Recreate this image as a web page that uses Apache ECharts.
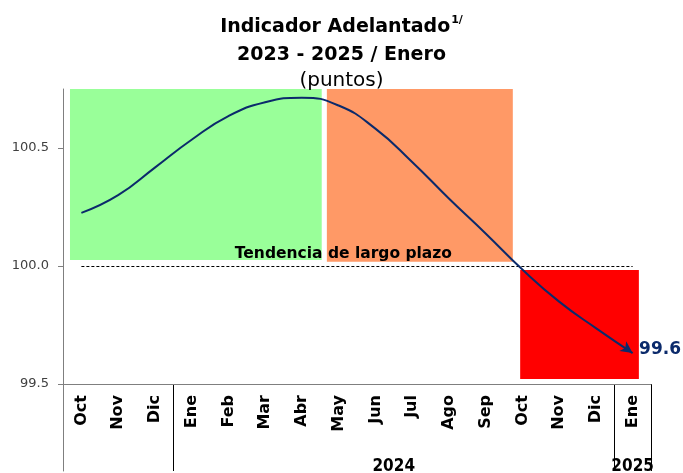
<!DOCTYPE html>
<html>
<head>
<meta charset="utf-8">
<script src="https://cdn.jsdelivr.net/npm/echarts@6/dist/echarts.min.js"></script>
<style>
html,body{margin:0;padding:0;background:#fff;}
#chart{width:683px;height:473px;}
</style>
</head>
<body>
<div id="chart"></div>
<script>
// ---- data ----
var categories = ['Oct','Nov','Dic','Ene','Feb','Mar','Abr','May','Jun','Jul','Ago','Sep','Oct','Nov','Dic','Ene'];
var values = [100.225, 100.300, 100.417, 100.535, 100.635, 100.694, 100.713, 100.680, 100.582, 100.441, 100.286, 100.138, 99.985, 99.849, 99.737, 99.631];
var yearNames = ['', '2024', '2025'];
var yearGroupSizes = [3, 12, 1];
var yTicks = [99.5, 100.0, 100.5];
var trendValue = 100.0;
var trendLabel = 'Tendencia de largo plazo';
var trendLabelAt = 7.13;
// shaded zones (category index units / indicator points)
var zoneStart = [-0.31, 6.68, 11.94];
var zoneEnd = [6.54, 11.74, 15.17];
var zoneTop = [100.75, 100.75, 99.983];
var zoneBottom = [100.025, 100.018, 99.521];

// ---- styles ----
var zoneColors = ['#99ff99', '#ff9966', '#ff0000'];
var lineColor = '#0b2a6b';
var axisColor = '#7f7f7f';

var lineData = values.map(function (v, i) { return [i, v]; });
var last = lineData.length - 1;
lineData[last] = {
  value: lineData[last],
  symbol: 'arrow',
  symbolSize: [9, 12],
  symbolRotate: -125,
  itemStyle: { color: lineColor },
  label: {
    show: true, position: 'right', distance: 3,
    formatter: function () { return values[last].toFixed(1); },
    fontFamily: 'DejaVu Sans', fontWeight: 'bold', fontSize: 17, color: lineColor
  }
};

// year group centers
var yearCenters = [];
var acc = 0;
yearGroupSizes.forEach(function (n) { yearCenters.push(acc + (n - 1) / 2); acc += n; });
var groupBoundaries = [];
acc = 0;
yearGroupSizes.forEach(function (n, k) { if (k > 0) groupBoundaries.push(acc); acc += n; });

var markAreaData = zoneStart.map(function (s, k) {
  return [
    { coord: [s, zoneTop[k]], itemStyle: { color: zoneColors[k], opacity: 1 } },
    { coord: [zoneEnd[k], zoneBottom[k]] }
  ];
});

var chart = echarts.init(document.getElementById('chart'));
var option = {
  animation: false,
  title: [
    { text: '{a|Indicador Adelantado}{s|1/}', left: 'center', top: 10,
      textStyle: { rich: {
        a: { fontFamily: 'DejaVu Sans', fontWeight: 'bold', fontSize: 19, color: '#000', lineHeight: 24 },
        s: { fontFamily: 'DejaVu Sans', fontWeight: 'bold', fontSize: 11, color: '#000', lineHeight: 24, verticalAlign: 'top', padding: [0, 0, 0, 1] }
      } } },
    { text: '2023 - 2025 / Enero', left: 'center', top: 38,
      textStyle: { fontFamily: 'DejaVu Sans', fontWeight: 'bold', fontSize: 19, color: '#000', lineHeight: 24 } },
    { text: '(puntos)', left: 'center', top: 64,
      textStyle: { fontFamily: 'DejaVu Sans', fontWeight: 'normal', fontSize: 20, color: '#000', lineHeight: 24 } }
  ],
  grid: [
    { left: 63, right: 32, top: 89, bottom: 89 },
    { left: 63, right: 32, top: 384, bottom: 0 }
  ],
  xAxis: [
    { gridIndex: 0, type: 'category', data: categories, position: 'bottom',
      axisLine: { onZero: false, lineStyle: { color: axisColor, width: 1 } },
      axisTick: { show: false },
      axisLabel: { interval: 0, rotate: 90, margin: 11, color: '#000',
        fontFamily: 'DejaVu Sans', fontWeight: 'bold', fontSize: 16 } },
    { gridIndex: 0, type: 'value', min: -0.5, max: categories.length - 0.5, show: false, position: 'top',
      axisLine: { onZero: false } },
    { gridIndex: 1, type: 'category', data: categories, position: 'bottom',
      axisLine: { show: false, onZero: false }, axisTick: { show: false }, axisLabel: { show: false },
      splitLine: { show: true, interval: function (i) { return groupBoundaries.indexOf(i) >= 0; },
        lineStyle: { color: '#000', width: 1 } } },
    { gridIndex: 1, type: 'value', min: -0.5, max: categories.length - 0.5, interval: 0.5, position: 'top',
      axisLine: { show: false, onZero: false }, axisTick: { show: false }, splitLine: { show: false },
      axisLabel: { inside: true, margin: 74, showMinLabel: true, showMaxLabel: true,
        fontFamily: "'Liberation Sans Narrow', 'DejaVu Sans Condensed', sans-serif", fontWeight: 'bold', fontSize: 17, color: '#000',
        formatter: function (v) {
          for (var k = 0; k < yearCenters.length; k++) {
            if (Math.abs(v - yearCenters[k]) < 1e-6) return yearNames[k];
          }
          return '';
        } } }
  ],
  yAxis: [
    { gridIndex: 0, type: 'value', min: 99.5, max: 100.75,
      axisLine: { show: true, onZero: false, lineStyle: { color: axisColor, width: 1 } },
      axisTick: { show: true, length: 5, customValues: yTicks, lineStyle: { color: axisColor } },
      splitLine: { show: false },
      axisLabel: { customValues: yTicks, margin: 14, color: '#404040',
        fontFamily: 'DejaVu Sans', fontSize: 13,
        formatter: function (v) { return v.toFixed(1); } } },
    { gridIndex: 1, type: 'value', min: 0, max: 1,
      axisLine: { show: true, onZero: false, lineStyle: { color: axisColor, width: 1 } },
      axisTick: { show: false }, axisLabel: { show: false }, splitLine: { show: false } }
  ],
  series: [
    { type: 'line', xAxisIndex: 1, yAxisIndex: 0, data: [], z: 1, silent: true,
      markArea: { silent: true, data: markAreaData } },
    { type: 'line', xAxisIndex: 1, yAxisIndex: 0, z: 5,
      data: lineData, smooth: true, symbol: 'none',
      lineStyle: { color: lineColor, width: 2 },
      itemStyle: { color: lineColor },
      markLine: { silent: true, symbol: 'none',
        lineStyle: { color: '#000', type: [3, 2], width: 1 },
        label: { show: false },
        data: [[{ coord: [0, trendValue] }, { coord: [categories.length - 1, trendValue] }]] },
      markPoint: { silent: true, symbol: 'circle', symbolSize: 0,
        data: [{ coord: [trendLabelAt, trendValue] }],
        label: { show: true, position: 'top', distance: 4, formatter: trendLabel,
          fontFamily: 'DejaVu Sans', fontWeight: 'bold', fontSize: 15.5, color: '#000' } } }
  ]
};
chart.setOption(option);
</script>
</body>
</html>
